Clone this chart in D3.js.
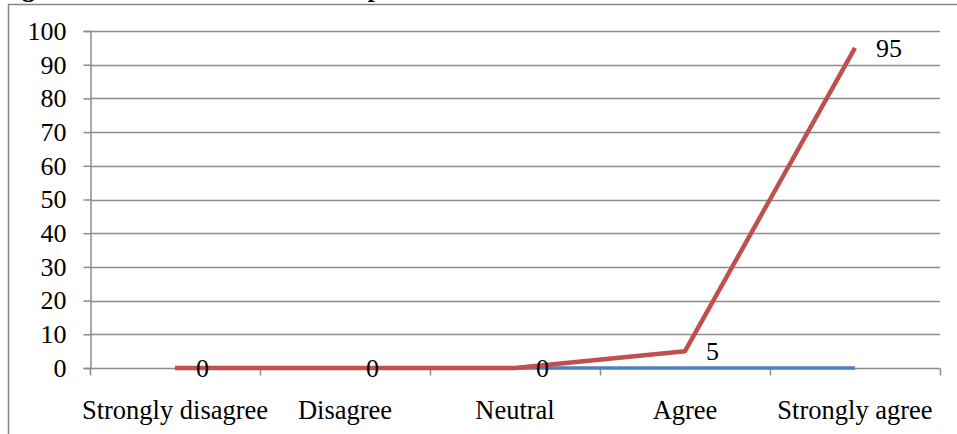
<!DOCTYPE html>
<html>
<head>
<meta charset="utf-8">
<script src="https://cdn.jsdelivr.net/npm/d3@7"></script>
<style>
  html, body { margin: 0; padding: 0; background: #fff; }
  svg { display: block; }
  text { font-family: "Liberation Serif", "Times New Roman", serif; fill: #000; }
</style>
</head>
<body>
<svg id="chart" width="957" height="434"></svg>
<script>
// Response categories and the two plotted series (percent)
const categories = ["Strongly disagree", "Disagree", "Neutral", "Agree", "Strongly agree"];
const seriesA = [0, 0, 0, 0, 0];      // blue series
const seriesB = [0, 0, 0, 5, 95];     // red series, labelled
const yTicks = [0, 10, 20, 30, 40, 50, 60, 70, 80, 90, 100];
const captionText = "Figure 4.3: Students' Overall Response";

const svg = d3.select("#chart");
const W = 957, H = 434;
const plot = { left: 90, right: 940, top: 31, bottom: 368 };

// Caption above the frame (only its descenders reach the visible area)
svg.append("text")
  .attr("x", -1).attr("y", -3.5)
  .style("font-weight", "bold").style("font-size", "26px")
  .text(captionText);

// Outer chart frame
svg.append("rect")
  .attr("x", 8.5).attr("y", 4.5)
  .attr("width", W + 10).attr("height", H + 10)
  .attr("fill", "none").attr("stroke", "#868686").attr("stroke-width", 1.5);

const x = d3.scaleBand().domain(categories).range([plot.left, plot.right]).padding(0);
const y = d3.scaleLinear().domain([0, 100]).range([plot.bottom, plot.top]);
const cx = c => x(c) + x.bandwidth() / 2;

// Horizontal gridlines
svg.append("g")
  .selectAll("line")
  .data(yTicks.filter(d => d > 0))
  .join("line")
  .attr("x1", plot.left).attr("x2", plot.right)
  .attr("y1", d => Math.round(y(d)) + 0.5).attr("y2", d => Math.round(y(d)) + 0.5)
  .attr("stroke", "#8c8c8c").attr("stroke-width", 1.5);

// Y axis
const yAxis = svg.append("g")
  .attr("transform", `translate(${plot.left + 0.5},0)`)
  .call(d3.axisLeft(y).tickValues(yTicks).tickSize(7).tickPadding(17));
yAxis.selectAll("path, line").attr("stroke", "#8c8c8c").attr("stroke-width", 1.5);
yAxis.selectAll("text").style("font-size", "26px")
  .style("font-family", "'Liberation Serif', 'Times New Roman', serif").attr("fill", "#000");

// X axis: ticks on category boundaries, labels centred in each band
const xAxisG = svg.append("g")
  .attr("transform", `translate(0,${Math.round(plot.bottom) + 0.5})`);
xAxisG.append("line")
  .attr("x1", plot.left).attr("x2", plot.right)
  .attr("stroke", "#8c8c8c").attr("stroke-width", 1.5);
const boundaries = categories.map(c => x(c)).concat([plot.right]);
xAxisG.selectAll("line.tick")
  .data(boundaries)
  .join("line").attr("class", "tick")
  .attr("x1", d => Math.round(d) + 0.5).attr("x2", d => Math.round(d) + 0.5)
  .attr("y1", 0).attr("y2", 7)
  .attr("stroke", "#8c8c8c").attr("stroke-width", 1.5);
xAxisG.selectAll("text")
  .data(categories)
  .join("text")
  .attr("x", d => cx(d)).attr("y", 50)
  .attr("text-anchor", "middle")
  .style("font-size", "26.5px")
  .text(d => d);

const line = d3.line().x((d, i) => cx(categories[i])).y(d => y(d));

// Blue series
svg.append("path")
  .datum(seriesA)
  .attr("d", line)
  .attr("fill", "none").attr("stroke", "#4F81BD").attr("stroke-width", 3.5)
  .attr("stroke-linejoin", "round");

// Red series
svg.append("path")
  .datum(seriesB)
  .attr("d", line)
  .attr("fill", "none").attr("stroke", "#C0504D").attr("stroke-width", 4.5)
  .attr("stroke-linejoin", "round");

// Value labels to the right of the red points
svg.append("g")
  .selectAll("text")
  .data(seriesB)
  .join("text")
  .attr("x", (d, i) => cx(categories[i]) + 21)
  .attr("y", d => y(d) + 9)
  .style("font-size", "26px")
  .text(d => d);
</script>
</body>
</html>
